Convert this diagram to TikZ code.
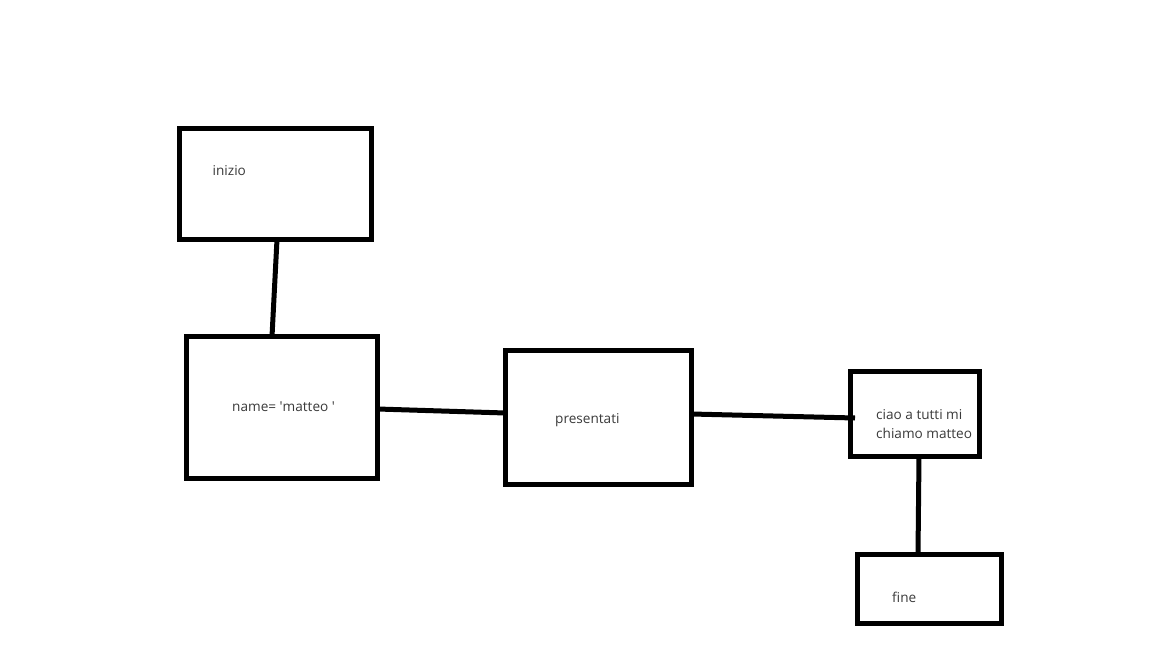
\documentclass[tikz,border=0pt]{standalone}
\usepackage{fontspec}
\setmainfont{Open Sans}
\usetikzlibrary{calc}
\definecolor{inkgray}{HTML}{3A3A3A}
\tikzset{
  blockbox/.style={draw=black, line width=5pt, rectangle, inner sep=0pt, outer sep=0pt},
  link/.style={draw=black, line width=5pt},
  caption/.style={anchor=base west, inner sep=0pt, text=inkgray, font=\fontsize{13.6}{20}\selectfont}
}
\begin{document}
\begin{tikzpicture}[x=1pt, y=-1pt]
  \useasboundingbox[fill=white] (0,0) rectangle (1152,648);

  % boxes
  \node[blockbox, minimum width=192pt, minimum height=111pt] (inizio) at (275.5,184) {};
  \node[blockbox, minimum width=191pt, minimum height=142pt] (name) at (282,407.5) {};
  \node[blockbox, minimum width=186pt, minimum height=134pt] (pres) at (598.5,417.5) {};
  \node[blockbox, minimum width=129pt, minimum height=85pt] (ciao) at (915,414) {};
  \node[blockbox, minimum width=144pt, minimum height=69pt] (fine) at (929.5,589) {};

  % labels
  \node[caption] (tinizio) at (212.5,175.5) {inizio};
  \node[caption] (tname) at (232,411) {name= \textquotesingle matteo \textquotesingle};
  \node[caption] (tpres) at (555,423.5) {presentati};
  \node[caption] (tciao1) at (876,419) {ciao a tutti mi};
  \node[caption] (tciao2) at (876,438) {chiamo matteo};
  \node[caption] (tfine) at (892,602) {fine};

  % connectors
  \draw[link] ($(inizio.south)+(1.5,0)$) -- ($(name.north)+(-10,0)$);
  \draw[link] ($(name.east)+(0,1.5)$) -- ($(pres.west)+(0,-4.5)$);
  \draw[link] ($(pres.east)+(0,-3.5)$) -- ($(ciao.west)+(4.5,4)$);
  \draw[link] ($(ciao.south)+(4,0)$) -- ($(fine.north)+(-11.5,0)$);
\end{tikzpicture}
\end{document}
